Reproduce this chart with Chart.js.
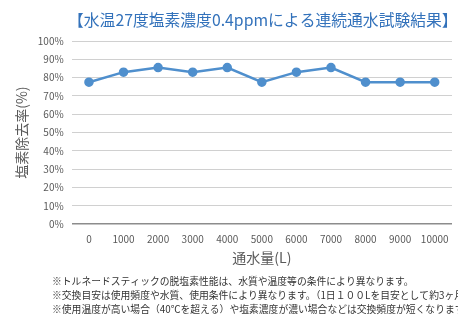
<!DOCTYPE html>
<html><head><meta charset="utf-8">
<script src="https://cdn.jsdelivr.net/npm/chart.js@4/dist/chart.umd.min.js"></script>
<style>html,body{margin:0;padding:0;background:#fff;}#wrap{width:458px;height:316px;position:relative;}</style>
</head><body><div id="wrap"><canvas id="c" width="458" height="316"></canvas></div>
<script>
const categories = ['0','1000','2000','3000','4000','5000','6000','7000','8000','9000','10000'];
const removalRate = [77.5, 83, 85.5, 83, 85.5, 77.5, 83, 85.5, 77.5, 77.5, 77.5];
const titleText = '【水温27度塩素濃度0.4ppmによる連続通水試験結果】';
const yTitle = '塩素除去率(%)';
const xTitle = '通水量(L)';
const notes = [
 '※トルネードスティックの脱塩素性能は、水質や温度等の条件により異なります。',
 '※交換目安は使用頻度や水質、使用条件により異なります。（1日１００Lを目安として約3ヶ月）',
 '※使用温度が高い場合（40℃を超える）や塩素濃度が濃い場合などは交換頻度が短くなります。'
];
const FONT = '"Noto Sans CJK JP", "Noto Sans", sans-serif';
const textPlugin = {
  id: 'texts',
  afterDraw(chart) {
    const ctx = chart.ctx;
    ctx.save();
    ctx.fillStyle = '#3372bb';
    ctx.font = '15.8px ' + FONT;
    ctx.textBaseline = 'middle';
    ctx.textAlign = 'left';
    ctx.fillText(titleText, 68, 20);
    ctx.fillStyle = '#333';
    ctx.font = '9.8px ' + FONT;
    notes.forEach((t, i) => ctx.fillText(t, 52, 281 + i * 14));
    ctx.restore();
  }
};
new Chart(document.getElementById('c'), {
  type: 'line',
  data: { labels: categories, datasets: [{
    data: removalRate, borderColor: '#4f8fcd', backgroundColor: '#4f8fcd',
    borderWidth: 2.5, pointRadius: 3.5, pointHoverRadius: 3.5, tension: 0 }] },
  options: {
    responsive: false, animation: false,
    layout: { padding: { top: 41, bottom: 46, left: 13, right: 0 } },
    plugins: { legend: { display: false }, title: { display: false }, tooltip: { enabled: false } },
    scales: {
      x: { offset: true,
        grid: { display: false, drawTicks: false },
        border: { display: false },
        ticks: { color: '#595959', font: { family: FONT, size: 10 }, padding: 9, maxRotation: 0, autoSkip: false },
        title: { display: true, text: xTitle, color: '#595959', font: { family: FONT, size: 14 }, padding: { top: -5 } } },
      y: { min: 0, max: 100,
        grid: { color: (c) => c.tick.value === 0 ? '#8c8c8c' : '#d0d0d0', lineWidth: (c) => c.tick.value === 0 ? 1.5 : 1, drawTicks: false },
        border: { display: false },
        ticks: { stepSize: 10, color: '#595959', font: { family: FONT, size: 10 }, padding: 8, callback: v => v + '%' },
        title: { display: true, text: yTitle, color: '#595959', font: { family: FONT, size: 14 }, padding: { top: 0, bottom: 0 } } }
    }
  },
  plugins: [textPlugin]
});
</script></body></html>
